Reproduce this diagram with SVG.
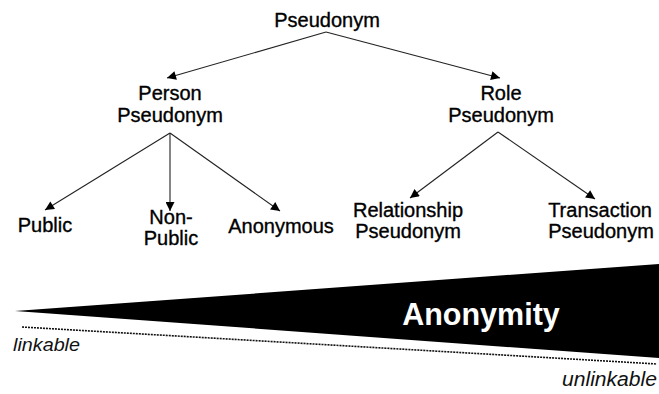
<svg xmlns="http://www.w3.org/2000/svg" width="659" height="394" viewBox="0 0 659 394">
  <style>
    .lbl { font-family: "Liberation Sans", Arial, sans-serif; font-size: 20px; fill: #000; stroke: #000; stroke-width: 0.35px; text-anchor: middle; }
    .edge { stroke: #222; stroke-width: 1.1; fill: none; marker-end: url(#head); }
    .scale { font-family: "Liberation Sans", Arial, sans-serif; font-style: italic; fill: #111; }
  </style>
  <defs>
    <marker id="head" viewBox="0 0 10 10" refX="10" refY="5" markerWidth="10" markerHeight="9" markerUnits="userSpaceOnUse" orient="auto">
      <path d="M0,0 L10,5 L0,10 Z" fill="#000"/>
    </marker>
  </defs>
  <rect width="659" height="394" fill="#fff"/>

  <g id="connectors">
    <line class="edge" x1="326" y1="32" x2="167" y2="78"/>
    <line class="edge" x1="326" y1="32" x2="500" y2="78"/>
    <line class="edge" x1="170" y1="133" x2="45" y2="210"/>
    <line class="edge" x1="170" y1="133" x2="170" y2="211"/>
    <line class="edge" x1="170" y1="133" x2="280" y2="211"/>
    <line class="edge" x1="498" y1="132" x2="410" y2="198"/>
    <line class="edge" x1="498" y1="132" x2="595" y2="199"/>
  </g>

  <g id="pseudonym"><text class="lbl" x="327" y="27">Pseudonym</text></g>
  <g id="person-pseudonym">
    <text class="lbl" x="170" y="100">Person</text>
    <text class="lbl" x="170" y="122">Pseudonym</text>
  </g>
  <g id="role-pseudonym">
    <text class="lbl" x="501" y="100">Role</text>
    <text class="lbl" x="501" y="122">Pseudonym</text>
  </g>
  <g id="public"><text class="lbl" x="45" y="232">Public</text></g>
  <g id="non-public">
    <text class="lbl" x="171" y="224">Non-</text>
    <text class="lbl" x="171" y="245">Public</text>
  </g>
  <g id="anonymous"><text class="lbl" x="281" y="233">Anonymous</text></g>
  <g id="relationship-pseudonym">
    <text class="lbl" x="408" y="217">Relationship</text>
    <text class="lbl" x="408" y="238">Pseudonym</text>
  </g>
  <g id="transaction-pseudonym">
    <text class="lbl" x="600" y="217">Transaction</text>
    <text class="lbl" x="601" y="238">Pseudonym</text>
  </g>

  <g id="anonymity-scale">
    <polygon points="15,311 659,264 659,358" fill="#000"/>
    <text x="481" y="325" font-family="'Liberation Sans', Arial, sans-serif" font-weight="bold" font-size="30.5" fill="#fff" text-anchor="middle">Anonymity</text>
    <line x1="22" y1="327" x2="657" y2="364" stroke="#111" stroke-width="1.6" stroke-dasharray="2 1"/>
    <text class="scale" x="13" y="351" font-size="18" textLength="67" lengthAdjust="spacingAndGlyphs">linkable</text>
    <text class="scale" x="562" y="386" font-size="19.5" textLength="95" lengthAdjust="spacingAndGlyphs">unlinkable</text>
  </g>
</svg>
